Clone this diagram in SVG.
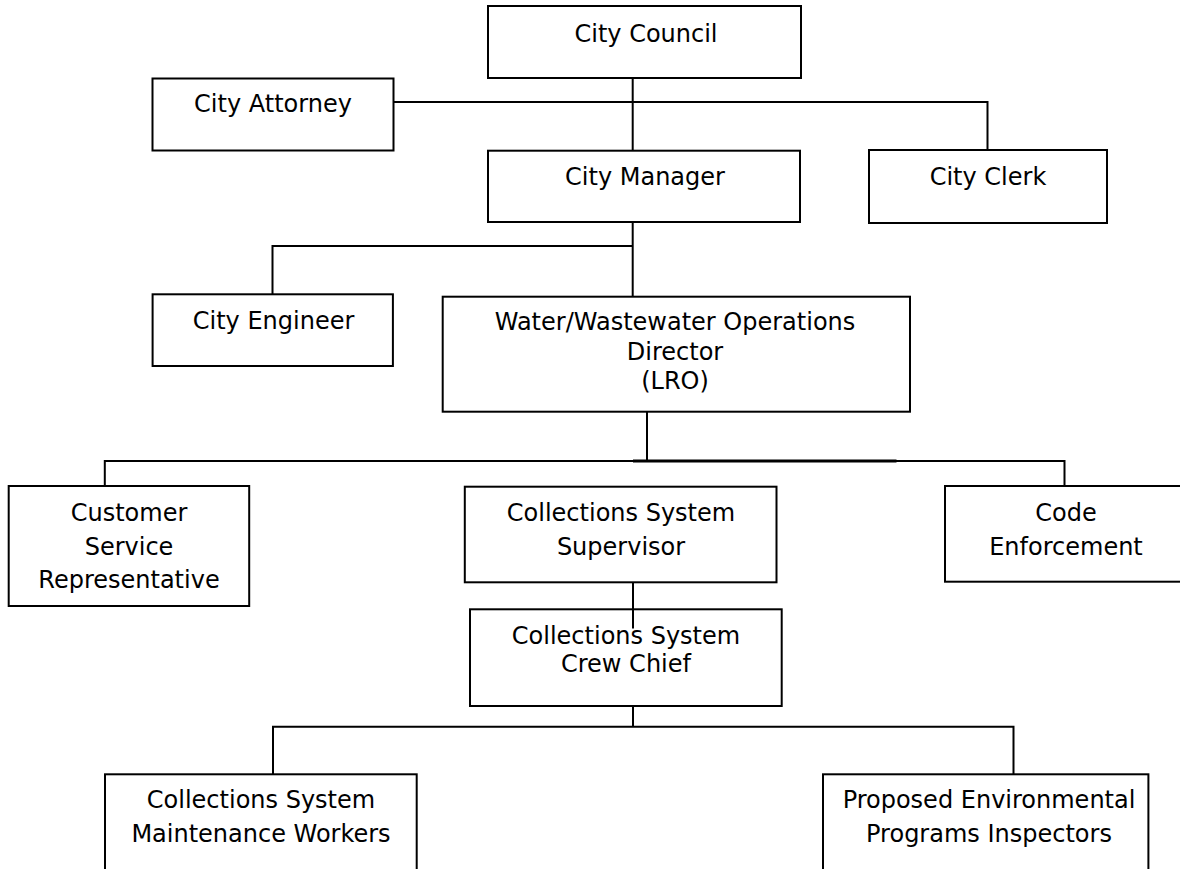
<svg xmlns="http://www.w3.org/2000/svg" width="1180" height="869" viewBox="0 0 1180 869">
<style>
.box{fill:#fff;stroke:#000;stroke-width:2}
.lbl{font-family:"DejaVu Sans",Verdana,sans-serif;font-size:24px;fill:#000;text-anchor:middle}
.con{stroke:#000;stroke-width:2;fill:none}
</style>
<rect width="1180" height="869" fill="#fff"/>
<g id="city-council"><rect class="box" x="488" y="6" width="313" height="72"/><text class="lbl" x="646" y="42">City Council</text></g>
<g id="city-attorney"><rect class="box" x="152.5" y="78.5" width="241" height="72"/><text class="lbl" x="273" y="112">City Attorney</text></g>
<g id="city-manager"><rect class="box" x="488" y="150.7" width="312" height="71.3"/><text class="lbl" x="645" y="185">City Manager</text></g>
<g id="city-clerk"><rect class="box" x="869" y="150" width="238" height="73"/><text class="lbl" x="988" y="185">City Clerk</text></g>
<g id="city-engineer"><rect class="box" x="152.6" y="294.3" width="240.3" height="71.7"/><text class="lbl" x="273.5" y="329">City Engineer</text></g>
<g id="ww-director"><rect class="box" x="442.7" y="296.7" width="467.3" height="115"/><text class="lbl" x="675" y="330">Water/Wastewater Operations</text><text class="lbl" x="675" y="359.5">Director</text><text class="lbl" x="675" y="389">(LRO)</text></g>
<g id="customer-service"><rect class="box" x="8.7" y="486" width="240.5" height="120"/><text class="lbl" x="129" y="521">Customer</text><text class="lbl" x="129" y="555">Service</text><text class="lbl" x="129" y="588">Representative</text></g>
<g id="cs-supervisor"><rect class="box" x="464.8" y="486.7" width="311.7" height="95.6"/><text class="lbl" x="621" y="521">Collections System</text><text class="lbl" x="621" y="555">Supervisor</text></g>
<g id="code-enforcement"><rect class="box" x="945" y="486" width="243" height="95.7"/><text class="lbl" x="1066" y="521">Code</text><text class="lbl" x="1066" y="555">Enforcement</text></g>
<g id="crew-chief"><rect class="box" x="470" y="609.3" width="311.7" height="96.7"/><text class="lbl" x="626" y="644">Collections System</text><text class="lbl" x="626" y="672">Crew Chief</text></g>
<g id="maintenance-workers"><rect class="box" x="105" y="774.3" width="311.7" height="110"/><text class="lbl" x="261" y="808">Collections System</text><text class="lbl" x="261" y="842">Maintenance Workers</text></g>
<g id="env-inspectors"><rect class="box" x="823" y="774.3" width="325.4" height="110"/><text class="lbl" x="989" y="808">Proposed Environmental</text><text class="lbl" x="989" y="842">Programs Inspectors</text></g>
<g id="connectors">
<path class="con" d="M632.7 78 V150.7"/>
<path class="con" d="M393.5 102 H987.5 V150"/>
<path class="con" d="M632.7 222 V296.7"/>
<path class="con" d="M632.7 246 H272.5 V294.3"/>
<path class="con" d="M647 411.7 V461"/>
<path class="con" d="M104.8 486 V461 H1064.5 V486"/>
<path d="M633 461 H896.5" stroke="#000" stroke-width="2.8" fill="none"/>
<path class="con" d="M633 582.3 V628.5"/>
<path class="con" d="M633 706 V726.7"/>
<path class="con" d="M273 774.3 V726.7 H1013.5 V774.3"/>
</g>
</svg>
